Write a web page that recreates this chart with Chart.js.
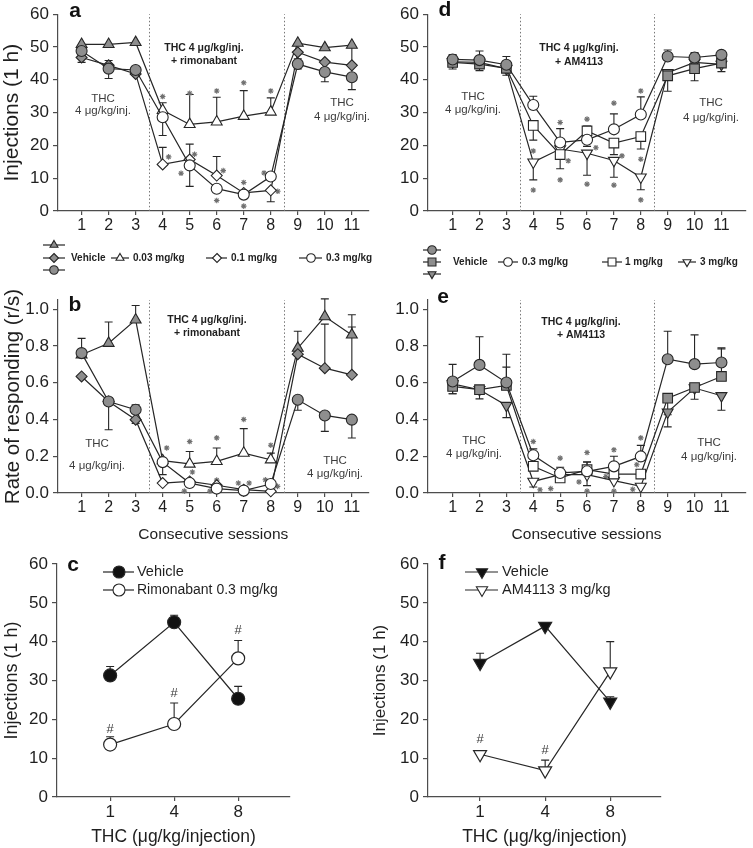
<!DOCTYPE html>
<html>
<head>
<meta charset="utf-8">
<script src="https://cdn.jsdelivr.net/npm/chart.js@4.4.1/dist/chart.umd.min.js"></script>
<style>
  body { margin: 0; background: #fff; width: 753px; height: 848px; position: relative; overflow: hidden; }
  canvas { position: absolute; }
</style>
</head>
<body>
<canvas id="pa"></canvas>
<canvas id="pd"></canvas>
<canvas id="pb"></canvas>
<canvas id="pe"></canvas>
<canvas id="pc"></canvas>
<canvas id="pf"></canvas>
<script>
// ---- data ----
const sessions = [1, 2, 3, 4, 5, 6, 7, 8, 9, 10, 11];
const drugDays = [4, 5, 6, 7, 8];
const phaseEdges = [3.5, 8.5];
const injTicks = [0, 10, 20, 30, 40, 50, 60];
const rateTicks = [0, 0.2, 0.4, 0.6, 0.8, 1.0];
const thcDoses = ["1", "4", "8"];
const doseSlots = [0, 1, 2];

// a: injections, rimonabant groups (error: + up, - down)
const aTri = [50.8, 50.8, 51.4, 30.7, 26.4, 27.2, 28.9, 30.2, 51.2, 49.8, 50.6];
const aTriErr = [0, 0, 0, 2.3, 9.1, 7.5, 7.8, 4.3, 0, 0, -6];
const aDia = [46.8, 44.4, 41.8, 14.2, 15.7, 10.8, 5.5, 6.3, 48.4, 45.4, 44.4];
const aDiaErr = [-1.5, 1.5, 0, 5.2, 4.7, 5.8, 0, -3.5, -2, 0, 0];
const aCir = [48.8, 43.4, 43.0, 28.6, 13.9, 6.8, 5.0, 10.5, 44.8, 42.4, 40.8];
const aCirErr = [0, -3, 0, -5.6, -6.4, 0, 0, 0, -1.5, -3, -3.8];
const aStars = [[4, 34.9], [4.22, 16.5], [5, 35.9], [5.18, 17.3], [4.68, 11.5], [6, 36.6], [6.24, 12.3], [6, 3.2],
  [7, 39.1], [7, 8.7], [7, 1.5], [8, 36.6], [7.75, 11.6], [8.26, 6]];

// d: injections, AM4113 groups
const dCir = [46.2, 46.0, 44.6, 32.3, 20.9, 21.7, 24.9, 29.4, 47.1, 46.8, 47.6];
const dCirErr = [1.5, 2.8, 2.5, 2.7, 4.2, -2, 4.7, 5.4, 2, 1.5, 0];
const dSq = [45.3, 44.8, 43.5, 26.1, 17.2, 24.4, 20.7, 22.7, 41.2, 43.4, 45.1];
const dSqErr = [-2, -2, 0, -4.5, -4.3, 1.5, -3.5, -3.8, -4.7, -3.7, -2.6];
const dTri = [45.5, 45.3, 43.4, 14.9, 18.9, 17.6, 15.4, 10.3, 42.2, 45.3, 44.7];
const dTriErr = [0, 0, -2, -5.4, 0, -6.7, -5.1, -3.8, -2, 0, 0];
const dStars = [[4, 18.3], [4, 6.4], [5, 27], [5.3, 15.3], [5, 9.5], [6, 28], [6.33, 19.3], [6, 8.2],
  [7, 32.9], [7.3, 16.8], [7, 7.9], [8, 36.6], [8, 15.8], [8, 3.4]];

// b: rate of responding, rimonabant groups
const bTri = [0.752, 0.815, 0.942, 0.176, 0.158, 0.172, 0.217, 0.181, 0.788, 0.96, 0.86];
const bTriErr = [0, 0.115, 0.078, 0, 0.068, 0.073, 0.133, 0.036, 0.092, 0.096, 0.11];
const bDia = [0.634, 0.498, 0.399, 0.054, 0.063, 0.042, 0.018, 0.009, 0.755, 0.679, 0.643];
const bDiaErr = [0, 0, -0.02, 0, 0, 0, 0, 0, 0, 0.24, 0.26];
const bCir = [0.761, 0.498, 0.453, 0.168, 0.054, 0.024, 0.013, 0.049, 0.507, 0.422, 0.399];
const bCirErr = [0.08, -0.154, 0.027, -0.068, 0, 0, 0, 0, -0.057, -0.087, -0.1];
const bStars = [[4.15, 0.245], [5, 0.28], [5.1, 0.114], [4.8, 0.01], [6, 0.3], [6, 0.07], [5.75, 0.01],
  [7, 0.4], [6.8, 0.054], [7.2, 0.054], [8, 0.26], [7.8, 0.072], [8.25, 0.036]];

// e: rate of responding, AM4113 groups
const eCir = [0.607, 0.697, 0.601, 0.205, 0.109, 0.118, 0.145, 0.199, 0.728, 0.701, 0.71];
const eCirErr = [0.093, 0.153, 0.154, 0.035, 0.031, 0.052, 0.055, 0.06, 0.152, 0.159, 0.08];
const eSq = [0.58, 0.562, 0.585, 0.145, 0.082, 0.127, 0.103, 0.103, 0.516, 0.574, 0.634];
const eSqErr = [-0.04, 0, 0.1, 0, 0, 0.04, 0, 0, -0.09, -0.064, 0.15];
const eTri = [0.594, 0.562, 0.476, 0.063, 0.1, 0.1, 0.067, 0.036, 0.44, 0.571, 0.529];
const eTriErr = [-0.054, -0.05, -0.066, -0.03, 0, -0.06, 0, 0, -0.08, 0, -0.079];
const eStars = [[4, 0.28], [4.25, 0.018], [5, 0.19], [4.65, 0.024], [6, 0.22], [5.7, 0.06], [6, 0.01],
  [7, 0.235], [6.7, 0.09], [7, 0.01], [8, 0.3], [7.85, 0.154], [7.7, 0.02]];

// c: THC dose, vehicle vs rimonabant
const cVeh = [31.3, 45.0, 25.3];
const cVehErr = [2.3, 1.8, 3.2];
const cRim = [13.5, 18.8, 35.7];
const cRimErr = [2.0, 5.4, 4.6];
const cHash = [[0, 17.3], [1, 26.8], [2, 43]];

// f: THC dose, vehicle vs AM4113
const fVeh = [34.5, 44.0, 24.5];
const fVehErr = [2.5, 0.5, 1.3];
const fAm = [11.0, 6.8, 32.3];
const fAmErr = [0.5, 2.7, 7.7];
const fHash = [[0, 14.7], [1, 11.9]];

// ---- styling ----
const GRAY = "#8e8e8e";
const INK = "#262626";
const AXIS = "#4d4d4d";
const TXT = "#1f1f1f";
const NOTE = "#3c3c3c";
const STAR = "#707070";
const FONT = '"Liberation Sans", Arial, Helvetica, sans-serif';

Chart.defaults.font.family = FONT;
Chart.defaults.color = TXT;

function pts(xs, ys) {
  return xs.map((x, i) => ({ x: x, y: ys[i] }));
}

function sessionSeries(ys, errs, style, r, rot) {
  return {
    data: pts(sessions, ys),
    errors: errs,
    pointStyle: style,
    pointRotation: rot || 0,
    pointRadius: r,
    pointHoverRadius: r,
    pointBackgroundColor: sessions.map((s) => (drugDays.includes(s) ? "#fff" : GRAY)),
    pointBorderColor: INK,
    pointBorderWidth: 1.1,
    borderColor: INK,
    borderWidth: 1.2,
    tension: 0,
    clip: false,
  };
}

function doseSeries(ys, errs, style, r, fill, rot) {
  return {
    data: pts(doseSlots, ys),
    errors: errs,
    pointStyle: style,
    pointRotation: rot || 0,
    pointRadius: r,
    pointHoverRadius: r,
    pointBackgroundColor: fill,
    pointBorderColor: INK,
    pointBorderWidth: 1.2,
    borderColor: INK,
    borderWidth: 1.2,
    tension: 0,
    clip: false,
  };
}

function starSet(list) {
  return {
    data: list.map((p) => ({ x: p[0], y: p[1] })),
    showLine: false,
    pointStyle: "star",
    pointRadius: 2.8,
    pointHoverRadius: 2.8,
    pointBorderColor: STAR,
    pointBorderWidth: 1.1,
    borderColor: STAR,
    clip: false,
  };
}

function drawMarker(ctx, style, x, y, r, fill, rot) {
  ctx.save();
  ctx.translate(x, y);
  ctx.rotate(((rot || 0) * Math.PI) / 180);
  ctx.beginPath();
  if (style === "circle") {
    ctx.arc(0, 0, r, 0, Math.PI * 2);
  } else if (style === "rect") {
    const s = r * Math.SQRT1_2;
    ctx.rect(-s, -s, 2 * s, 2 * s);
  } else if (style === "rectRot") {
    ctx.moveTo(0, -r); ctx.lineTo(r, 0); ctx.lineTo(0, r); ctx.lineTo(-r, 0); ctx.closePath();
  } else {
    for (let k = 0; k < 3; k++) {
      const a = (k * 2 * Math.PI) / 3;
      if (k === 0) ctx.moveTo(Math.sin(a) * r, -Math.cos(a) * r);
      else ctx.lineTo(Math.sin(a) * r, -Math.cos(a) * r);
    }
    ctx.closePath();
  }
  ctx.fillStyle = fill;
  ctx.fill();
  ctx.strokeStyle = INK;
  ctx.lineWidth = 1.1;
  ctx.stroke();
  ctx.restore();
}

// error bars, phase lines, notes, legend and panel letter
function deco(cfg) {
  return {
    id: "deco",
    beforeDatasetsDraw(chart) {
      const { ctx, chartArea: a, scales } = chart;
      const x = scales.x, y = scales.y;
      ctx.save();
      if (cfg.edges) {
        ctx.strokeStyle = "#777";
        ctx.lineWidth = 1;
        ctx.setLineDash([1.5, 2.2]);
        phaseEdges.forEach((v) => {
          const px = Math.round(x.getPixelForValue(v)) + 0.5;
          ctx.beginPath();
          ctx.moveTo(px, a.bottom);
          ctx.lineTo(px, a.top);
          ctx.stroke();
        });
        ctx.setLineDash([]);
      }
      ctx.strokeStyle = INK;
      ctx.lineWidth = 1.1;
      chart.data.datasets.forEach((ds) => {
        if (!ds.errors) return;
        ds.data.forEach((p, i) => {
          const e = ds.errors[i];
          if (!e) return;
          const px = x.getPixelForValue(p.x);
          const y0 = y.getPixelForValue(p.y);
          const y1 = y.getPixelForValue(p.y + e);
          ctx.beginPath();
          ctx.moveTo(px, y0);
          ctx.lineTo(px, y1);
          ctx.moveTo(px - 4, y1);
          ctx.lineTo(px + 4, y1);
          ctx.stroke();
        });
      });
      ctx.restore();
    },
    afterDraw(chart) {
      const { ctx, scales } = chart;
      ctx.save();
      ctx.textBaseline = "middle";
      (cfg.notes || []).forEach((n) => {
        ctx.font = (n.bold ? "bold " : "") + n.size + "px " + FONT;
        ctx.fillStyle = n.bold ? TXT : NOTE;
        ctx.textAlign = "center";
        ctx.fillText(n.t, n.x, n.y);
      });
      (cfg.hashes || []).forEach((h) => {
        ctx.font = "13px " + FONT;
        ctx.fillStyle = NOTE;
        ctx.textAlign = "center";
        ctx.fillText("#", scales.x.getPixelForValue(h[0]), scales.y.getPixelForValue(h[1]));
      });
      (cfg.legend || []).forEach((l) => {
        ctx.strokeStyle = INK;
        ctx.lineWidth = 1.2;
        ctx.beginPath();
        ctx.moveTo(l.x1, l.y);
        ctx.lineTo(l.x2, l.y);
        ctx.stroke();
        drawMarker(ctx, l.style, l.mx, l.y, l.r, l.fill, l.rot);
        if (l.text) {
          ctx.font = (l.bold ? "bold " : "") + l.size + "px " + FONT;
          ctx.fillStyle = TXT;
          ctx.textAlign = "left";
          ctx.fillText(l.text, l.tx, l.ty || l.y);
        }
      });
      if (cfg.letter) {
        ctx.font = "bold 21px " + FONT;
        ctx.fillStyle = "#111";
        ctx.textAlign = "center";
        ctx.fillText(cfg.letter.t, cfg.letter.x, cfg.letter.y);
      }
      ctx.restore();
    },
  };
}

function makePanel(id, box, opt) {
  const cv = document.getElementById(id);
  cv.width = box.w;
  cv.height = box.h;
  cv.style.left = box.x + "px";
  cv.style.top = box.y + "px";
  return new Chart(cv, {
    type: "line",
    data: { datasets: opt.datasets },
    options: {
      responsive: false,
      animation: false,
      events: [],
      layout: { padding: { left: 0, top: box.top, right: box.right, bottom: 0 } },
      plugins: { legend: { display: false }, tooltip: { enabled: false } },
      scales: {
        x: {
          type: "linear",
          min: opt.xMin,
          max: opt.xMax,
          afterBuildTicks: (s) => { s.ticks = opt.xTicks.map((v) => ({ value: v })); },
          afterFit: (s) => { s.height = box.xh; },
          border: { color: AXIS, width: 1.2 },
          grid: { drawOnChartArea: false, color: AXIS, lineWidth: 1.2, tickLength: 4 },
          ticks: { font: { size: opt.xTickSize }, color: TXT, padding: 1, maxRotation: 0, autoSkip: false, callback: opt.xLabel },
          title: opt.xTitle
            ? { display: true, text: opt.xTitle, font: { size: opt.xTitleSize }, color: TXT, padding: { top: 0, bottom: opt.xTitlePad } }
            : { display: false },
        },
        y: {
          type: "linear",
          min: 0,
          max: opt.yMax,
          afterBuildTicks: (s) => { s.ticks = opt.yTicks.map((v) => ({ value: v })); },
          afterFit: (s) => { s.width = box.yw; },
          border: { color: AXIS, width: 1.2 },
          grid: { drawOnChartArea: false, color: AXIS, lineWidth: 1.2, tickLength: 5 },
          ticks: { font: { size: 17 }, color: TXT, padding: 4, callback: opt.yLabel },
          title: opt.yTitle
            ? { display: true, text: opt.yTitle, font: { size: opt.yTitleSize }, color: TXT, padding: { top: opt.yTitlePad, bottom: 0 } }
            : { display: false },
        },
      },
    },
    plugins: [deco(opt)],
  });
}

const injLabel = (v) => String(v);
const rateLabel = (v) => v.toFixed(1);
const doseLabel = (v) => thcDoses[v];
const notesFor = (l1, l2, r1, r2, c1, c2, drug) => [
  { t: "THC", x: l1[0], y: l1[1], size: 11.5 },
  { t: "4 μg/kg/inj.", x: l2[0], y: l2[1], size: 11.5 },
  { t: "THC", x: r1[0], y: r1[1], size: 11.5 },
  { t: "4 μg/kg/inj.", x: r2[0], y: r2[1], size: 11.5 },
  { t: "THC 4 μg/kg/inj.", x: c1[0], y: c1[1], size: 10.5, bold: true },
  { t: drug, x: c2[0], y: c2[1], size: 10.5, bold: true },
];

// panel a
makePanel("pa", { x: 0, y: 0, w: 376, h: 235, top: 12, right: 2, yw: 58, xh: 24 }, {
  datasets: [
    sessionSeries(aCir, aCirErr, "circle", 5.5),
    sessionSeries(aDia, aDiaErr, "rectRot", 5.5),
    sessionSeries(aTri, aTriErr, "triangle", 6.3),
    starSet(aStars),
  ],
  xMin: 0.127, xMax: 11.62, xTicks: sessions, xTickSize: 16, xLabel: injLabel,
  yMax: 60, yTicks: injTicks, yLabel: injLabel, yTitle: "Injections (1 h)", yTitleSize: 21, yTitlePad: 0,
  edges: true,
  notes: notesFor([103, 99], [103, 111], [342, 103], [342, 117], [204, 48], [204, 61], "+ rimonabant"),
  letter: { t: "a", x: 75, y: 11 },
});

// panel d
makePanel("pd", { x: 376, y: 0, w: 377, h: 235, top: 12, right: 3, yw: 52, xh: 24 }, {
  datasets: [
    sessionSeries(dCir, dCirErr, "circle", 5.5),
    sessionSeries(dSq, dSqErr, "rect", 6.8),
    sessionSeries(dTri, dTriErr, "triangle", 6.3, 180),
    starSet(dStars),
  ],
  xMin: 0.084, xMax: 11.88, xTicks: sessions, xTickSize: 16, xLabel: injLabel,
  yMax: 60, yTicks: injTicks, yLabel: injLabel,
  edges: true,
  notes: notesFor([97, 97], [97, 110], [335, 103], [335, 118], [203, 48], [203, 62], "+ AM4113"),
  letter: { t: "d", x: 69, y: 10 },
});

// panel b
makePanel("pb", { x: 0, y: 235, w: 376, h: 310, top: 65, right: 2, yw: 58, xh: 52 }, {
  datasets: [
    sessionSeries(bCir, bCirErr, "circle", 5.5),
    sessionSeries(bDia, bDiaErr, "rectRot", 5.5),
    sessionSeries(bTri, bTriErr, "triangle", 6.3),
    starSet(bStars),
  ],
  xMin: 0.127, xMax: 11.62, xTicks: sessions, xTickSize: 16, xLabel: injLabel,
  xTitle: "Consecutive sessions", xTitleSize: 15.5, xTitlePad: 1,
  yMax: 1.05, yTicks: rateTicks, yLabel: rateLabel, yTitle: "Rate of responding (r/s)", yTitleSize: 20.5, yTitlePad: 1,
  edges: true,
  notes: notesFor([97, 209], [97, 231], [335, 226], [335, 239], [207, 85], [207, 98], "+ rimonabant"),
  legend: [
    { x1: 43, x2: 65, mx: 54, y: 10, style: "triangle", r: 4.6, fill: GRAY },
    { x1: 43, x2: 65, mx: 54, y: 23, style: "rectRot", r: 4.5, fill: GRAY, text: "Vehicle", tx: 71, size: 10, bold: true },
    { x1: 43, x2: 65, mx: 54, y: 35, style: "circle", r: 4.3, fill: GRAY },
    { x1: 111, x2: 129, mx: 120, y: 23, style: "triangle", r: 4.6, fill: "#fff", text: "0.03 mg/kg", tx: 133, size: 10, bold: true },
    { x1: 206, x2: 227, mx: 217, y: 23, style: "rectRot", r: 4.5, fill: "#fff", text: "0.1 mg/kg", tx: 231, size: 10, bold: true },
    { x1: 299, x2: 322, mx: 311, y: 23, style: "circle", r: 4.3, fill: "#fff", text: "0.3 mg/kg", tx: 326, size: 10, bold: true },
  ],
  letter: { t: "b", x: 75, y: 70 },
});

// panel e
makePanel("pe", { x: 376, y: 235, w: 377, h: 310, top: 65, right: 3, yw: 52, xh: 52 }, {
  datasets: [
    sessionSeries(eCir, eCirErr, "circle", 5.5),
    sessionSeries(eSq, eSqErr, "rect", 6.8),
    sessionSeries(eTri, eTriErr, "triangle", 6.3, 180),
    starSet(eStars),
  ],
  xMin: 0.084, xMax: 11.88, xTicks: sessions, xTickSize: 16, xLabel: injLabel,
  xTitle: "Consecutive sessions", xTitleSize: 15.5, xTitlePad: 1,
  yMax: 1.05, yTicks: rateTicks, yLabel: rateLabel,
  edges: true,
  notes: notesFor([98, 206], [98, 219], [333, 208], [333, 222], [205, 87], [205, 100], "+ AM4113"),
  legend: [
    { x1: 47, x2: 65, mx: 56, y: 15, style: "circle", r: 4.3, fill: GRAY },
    { x1: 47, x2: 65, mx: 56, y: 27, style: "rect", r: 5.6, fill: GRAY, text: "Vehicle", tx: 77, size: 10, bold: true },
    { x1: 47, x2: 65, mx: 56, y: 39, style: "triangle", r: 4.6, fill: GRAY, rot: 180 },
    { x1: 122, x2: 142, mx: 132, y: 27, style: "circle", r: 4.3, fill: "#fff", text: "0.3 mg/kg", tx: 146, size: 10, bold: true },
    { x1: 226, x2: 246, mx: 236, y: 27, style: "rect", r: 5.6, fill: "#fff", text: "1 mg/kg", tx: 249, size: 10, bold: true },
    { x1: 302, x2: 320, mx: 311, y: 27, style: "triangle", r: 4.6, fill: "#fff", rot: 180, text: "3 mg/kg", tx: 324, size: 10, bold: true },
  ],
  letter: { t: "e", x: 67, y: 62 },
});

// panel c
makePanel("pc", { x: 0, y: 545, w: 376, h: 303, top: 19, right: 86, yw: 57, xh: 51 }, {
  datasets: [
    doseSeries(cVeh, cVehErr, "circle", 6.5, "#111"),
    doseSeries(cRim, cRimErr, "circle", 6.5, "#fff"),
  ],
  xMin: -0.83, xMax: 2.81, xTicks: doseSlots, xTickSize: 17, xLabel: doseLabel,
  xTitle: "THC (μg/kg/injection)", xTitleSize: 17.5, xTitlePad: 0,
  yMax: 60, yTicks: injTicks, yLabel: injLabel, yTitle: "Injections (1 h)", yTitleSize: 18, yTitlePad: 1,
  hashes: cHash,
  legend: [
    { x1: 103, x2: 134, mx: 119, y: 27, style: "circle", r: 6, fill: "#111", text: "Vehicle", tx: 137, size: 14.5 },
    { x1: 103, x2: 134, mx: 119, y: 45, style: "circle", r: 6, fill: "#fff", text: "Rimonabant 0.3 mg/kg", tx: 137, size: 14 },
  ],
  letter: { t: "c", x: 73, y: 20 },
});

// panel f (canvas starts a little left so its axis title is not cut)
makePanel("pf", { x: 366, y: 545, w: 387, h: 303, top: 19, right: 92, yw: 62, xh: 51 }, {
  datasets: [
    doseSeries(fVeh, fVehErr, "triangle", 7.5, "#111", 180),
    doseSeries(fAm, fAmErr, "triangle", 7.5, "#fff", 180),
  ],
  xMin: -0.8, xMax: 2.78, xTicks: doseSlots, xTickSize: 17, xLabel: doseLabel,
  xTitle: "THC (μg/kg/injection)", xTitleSize: 17.5, xTitlePad: 0,
  yMax: 60, yTicks: injTicks, yLabel: injLabel, yTitle: "Injections (1 h)", yTitleSize: 17, yTitlePad: 4,
  hashes: fHash,
  legend: [
    { x1: 99, x2: 132, mx: 116, y: 27, style: "triangle", r: 6.5, fill: "#111", rot: 180, text: "Vehicle", tx: 136, size: 14.5 },
    { x1: 99, x2: 132, mx: 116, y: 45, style: "triangle", r: 6.5, fill: "#fff", rot: 180, text: "AM4113 3 mg/kg", tx: 136, size: 14.5 },
  ],
  letter: { t: "f", x: 76, y: 18 },
});
</script>
</body>
</html>
